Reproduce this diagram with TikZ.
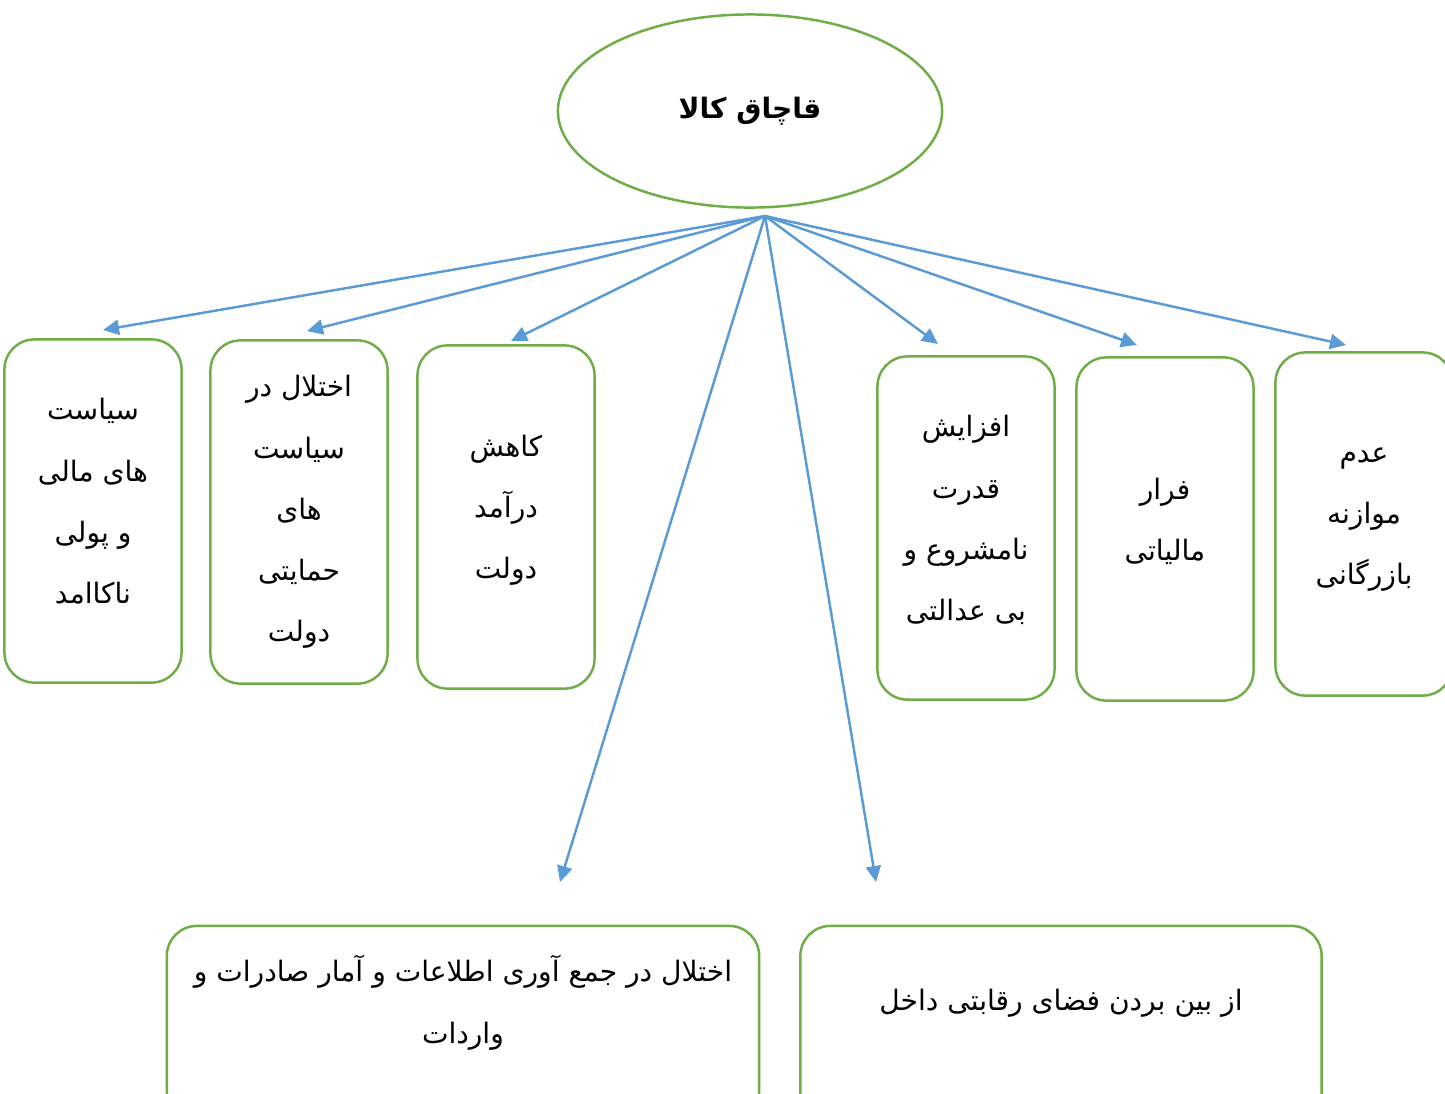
\documentclass[tikz,border=0pt]{standalone}
\usepackage{fontspec}
\newfontfamily\arabicfont[Script=Arabic]{DejaVu Sans}
\TeXXeTstate=1
\usetikzlibrary{shapes.geometric, arrows.meta}

\newcommand{\fa}[1]{\beginR #1\endR}

\definecolor{boxgreen}{RGB}{112,173,71}
\definecolor{arrowblue}{RGB}{91,155,213}

\tikzset{
  cause/.style={ellipse, draw=boxgreen, line width=0.7pt, minimum width=3.84cm, minimum height=1.93cm,
    font=\arabicfont\bfseries\fontsize{8}{9}\selectfont},
  effect/.style={rectangle, rounded corners=0.3cm, draw=boxgreen, line width=0.7pt, minimum width=1.77cm, minimum height=3.43cm,
    align=center, font=\arabicfont\fontsize{8}{17.4}\selectfont},
  widebox/.style={effect, minimum height=3.2cm},
  label text/.style={align=center, font=\arabicfont\fontsize{8}{17.6}\selectfont},
  link/.style={draw=arrowblue, line width=0.7pt, -{Triangle[length=0.16cm, width=0.15cm]}}
}

\begin{document}
\begin{tikzpicture}[x=0.01cm, y=-0.01cm]
  \clip (0,0) rectangle (1445,1093);
  \fill[white] (0,0) rectangle (1445,1093);

  % main node
  \node[cause] (smuggling) at (750,111) {\fa{قاچاق کالا}\\[0.05cm]};
  \coordinate (hub) at (765,216);

  % upper row
  \node[effect] (policy)   at (93,511)   {\fa{سیاست}\\\fa{های مالی}\\\fa{و پولی}\\\fa{ناکاامد}\\[-0.41cm]};
  \node[effect] (support)  at (299,512)  {\fa{اختلال در}\\\fa{سیاست}\\\fa{های}\\\fa{حمایتی}\\\fa{دولت}};
  \node[effect] (revenue)  at (506,517)  {\fa{کاهش}\\\fa{درآمد}\\\fa{دولت}\\[-0.41cm]};
  \node[effect] (power)    at (966,528)  {\fa{افزایش}\\\fa{قدرت}\\\fa{نامشروع و}\\\fa{بی عدالتی}\\[-0.41cm]};
  \node[effect] (tax)      at (1165,529) {\fa{فرار}\\\fa{مالیاتی}\\[-0.41cm]};
  \node[effect] (trade)    at (1364,524) {\fa{عدم}\\\fa{موازنه}\\\fa{بازرگانی}\\[-0.45cm]};

  % lower row
  \node[widebox, minimum width=5.92cm] (stats) at (463,1086) {};
  \node[label text] (stats text) at (463,1003) {\fa{اختلال در جمع آوری اطلاعات و آمار صادرات و}\\\fa{واردات}};
  \node[widebox, minimum width=5.21cm] (compete) at (1061,1086) {};
  \node[label text] (compete text) at (1061,1003) {\fa{از بین بردن فضای رقابتی داخل}};

  % arrow tips
  \coordinate (t policy)  at (103,330);
  \coordinate (t support) at (307,331);
  \coordinate (t revenue) at (511,341);
  \coordinate (t stats)   at (560,882);
  \coordinate (t compete) at (876,882);
  \coordinate (t power)   at (938,344);
  \coordinate (t tax)     at (1137,345);
  \coordinate (t trade)   at (1346,345);

  \foreach \t in {policy, support, revenue, stats, compete, power, tax, trade}
    \draw[link] (hub) -- (t \t);

\end{tikzpicture}
\end{document}
